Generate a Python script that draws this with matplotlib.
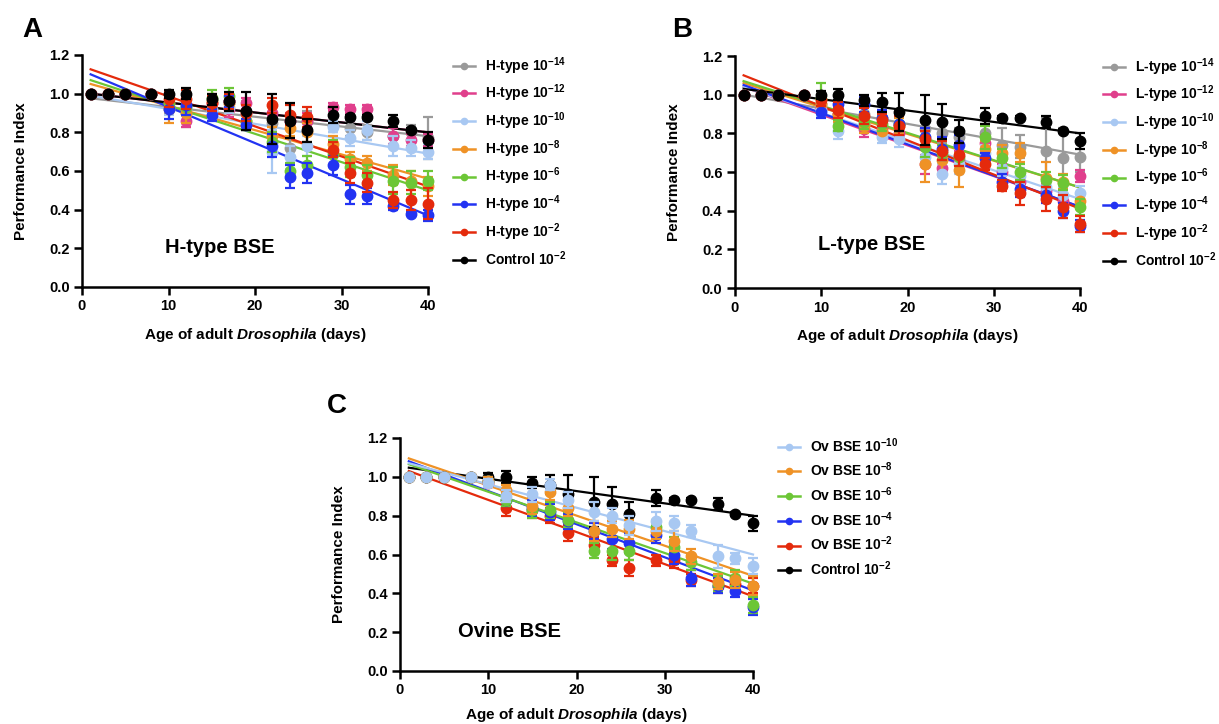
import numpy as np
import matplotlib
matplotlib.use("Agg")
import matplotlib.pyplot as plt
from matplotlib.lines import Line2D
from matplotlib.ticker import FormatStrFormatter

plt.rcParams['font.family'] = ['Liberation Sans', 'DejaVu Sans']
plt.rcParams['font.weight'] = 'bold'
plt.rcParams['mathtext.fontset'] = 'custom'
plt.rcParams['mathtext.rm'] = 'Liberation Sans:bold'
plt.rcParams['mathtext.bf'] = 'Liberation Sans:bold'
plt.rcParams['mathtext.it'] = 'Liberation Sans:italic:bold'

# ---- sampling days (age of adult flies) ----
days = [1, 3, 5, 8, 10, 12, 15, 17, 19, 22, 24, 26, 29, 31, 33, 36, 38, 40]

# ---- control (shared by all panels) ----
control = [1.0, 1.0, 1.0, 1.0, 1.0, 1.0, 0.97, 0.96, 0.91, 0.87, 0.86, 0.81, 0.89, 0.88, 0.88, 0.86, 0.81, 0.76]
control_err = [0, 0, 0, 0, 0.02, 0.03, 0.03, 0.05, 0.10, 0.13, 0.09, 0.06, 0.04, 0.01, 0.01, 0.03, 0.01, 0.04]

# ---- panel A: H-type BSE ----
h_labels = ["H-type 10$^{-14}$", "H-type 10$^{-12}$", "H-type 10$^{-10}$", "H-type 10$^{-8}$",
            "H-type 10$^{-6}$", "H-type 10$^{-4}$", "H-type 10$^{-2}$", "Control 10$^{-2}$"]
h_m14 = [1, 1, 1, 1, 0.93, 0.90, 0.92, 0.95, 0.90, 0.85, 0.72, 0.86, 0.84, 0.82, 0.80, 0.78, 0.80, 0.77]
h_m14_err = [0, 0, 0, 0, 0.03, 0.07, 0.05, 0.04, 0.06, 0.05, 0.05, 0.05, 0.04, 0.04, 0.04, 0.05, 0.04, 0.11]
h_m12 = [1, 1, 1, 1, 0.95, 0.86, 0.95, 0.92, 0.95, 0.90, 0.86, 0.86, 0.93, 0.92, 0.92, 0.78, 0.76, 0.76]
h_m12_err = [0, 0, 0, 0, 0.03, 0.03, 0.03, 0.04, 0.03, 0.04, 0.04, 0.04, 0.02, 0.02, 0.02, 0.04, 0.03, 0.03]
h_m10 = [1, 1, 1, 1, 0.92, 0.93, 0.91, 0.93, 0.85, 0.70, 0.67, 0.73, 0.83, 0.77, 0.81, 0.73, 0.72, 0.70]
h_m10_err = [0, 0, 0, 0, 0.03, 0.04, 0.04, 0.03, 0.04, 0.11, 0.06, 0.05, 0.03, 0.04, 0.05, 0.05, 0.04, 0.04]
h_m8 = [1, 1, 1, 1, 0.92, 0.90, 0.96, 0.95, 0.86, 0.78, 0.82, 0.80, 0.74, 0.66, 0.64, 0.58, 0.55, 0.52]
h_m8_err = [0, 0, 0, 0, 0.07, 0.05, 0.04, 0.04, 0.05, 0.05, 0.04, 0.05, 0.04, 0.04, 0.04, 0.05, 0.05, 0.05]
h_m6 = [1, 1, 1, 1, 0.95, 0.93, 0.98, 0.99, 0.86, 0.75, 0.60, 0.63, 0.69, 0.62, 0.58, 0.55, 0.54, 0.55]
h_m6_err = [0, 0, 0, 0, 0.03, 0.04, 0.04, 0.04, 0.03, 0.05, 0.04, 0.05, 0.07, 0.05, 0.05, 0.07, 0.06, 0.05]
h_m4 = [1, 1, 1, 1, 0.92, 0.94, 0.89, 0.96, 0.84, 0.73, 0.57, 0.59, 0.63, 0.48, 0.47, 0.42, 0.38, 0.37]
h_m4_err = [0, 0, 0, 0, 0.05, 0.05, 0.03, 0.03, 0.03, 0.06, 0.06, 0.05, 0.05, 0.05, 0.04, 0.02, 0.01, 0.03]
h_m2 = [1, 1, 1, 1, 0.97, 0.97, 0.95, 0.96, 0.90, 0.94, 0.89, 0.88, 0.71, 0.59, 0.54, 0.45, 0.45, 0.43]
h_m2_err = [0, 0, 0, 0, 0.04, 0.05, 0.04, 0.04, 0.04, 0.04, 0.05, 0.05, 0.04, 0.05, 0.05, 0.04, 0.05, 0.08]
# linear fits: value at day 1 and day 40
h_fit_start = [0.976, 1.00, 0.99, 1.05, 1.07, 1.10, 1.126, 1.00]
h_fit_end = [0.78, 0.80, 0.69, 0.56, 0.50, 0.37, 0.52, 0.80]

# ---- panel B: L-type BSE ----
l_labels = ["L-type 10$^{-14}$", "L-type 10$^{-12}$", "L-type 10$^{-10}$", "L-type 10$^{-8}$",
            "L-type 10$^{-6}$", "L-type 10$^{-4}$", "L-type 10$^{-2}$", "Control 10$^{-2}$"]
l_m14 = [1, 1, 1, 1, 0.95, 0.90, 0.90, 0.88, 0.85, 0.82, 0.80, 0.78, 0.80, 0.74, 0.73, 0.71, 0.67, 0.68]
l_m14_err = [0, 0, 0, 0, 0.03, 0.04, 0.04, 0.04, 0.04, 0.04, 0.05, 0.05, 0.05, 0.09, 0.06, 0.17, 0.16, 0.08]
l_m12 = [1, 1, 1, 1, 0.93, 0.90, 0.82, 0.83, 0.80, 0.64, 0.62, 0.66, 0.75, 0.60, 0.55, 0.50, 0.45, 0.58]
l_m12_err = [0, 0, 0, 0, 0.03, 0.03, 0.04, 0.03, 0.04, 0.05, 0.04, 0.05, 0.04, 0.04, 0.04, 0.04, 0.04, 0.03]
l_m10 = [1, 1, 1, 1, 0.92, 0.81, 0.85, 0.78, 0.77, 0.68, 0.59, 0.64, 0.70, 0.62, 0.58, 0.52, 0.48, 0.49]
l_m10_err = [0, 0, 0, 0, 0.03, 0.04, 0.03, 0.03, 0.04, 0.05, 0.05, 0.05, 0.04, 0.04, 0.04, 0.04, 0.04, 0.04]
l_m8 = [1, 1, 1, 1, 0.95, 0.90, 0.84, 0.81, 0.84, 0.64, 0.66, 0.61, 0.72, 0.70, 0.70, 0.57, 0.55, 0.45]
l_m8_err = [0, 0, 0, 0, 0.03, 0.04, 0.04, 0.04, 0.04, 0.09, 0.08, 0.09, 0.04, 0.04, 0.05, 0.08, 0.04, 0.04]
l_m6 = [1, 1, 1, 1, 0.98, 0.84, 0.86, 0.85, 0.85, 0.73, 0.70, 0.68, 0.78, 0.67, 0.60, 0.56, 0.545, 0.42]
l_m6_err = [0, 0, 0, 0, 0.08, 0.03, 0.04, 0.04, 0.04, 0.05, 0.04, 0.05, 0.06, 0.05, 0.04, 0.04, 0.04, 0.04]
l_m4 = [1, 1, 1, 1, 0.91, 0.95, 0.95, 0.88, 0.85, 0.78, 0.72, 0.74, 0.67, 0.55, 0.51, 0.48, 0.40, 0.32]
l_m4_err = [0, 0, 0, 0, 0.03, 0.04, 0.04, 0.04, 0.04, 0.05, 0.06, 0.05, 0.03, 0.04, 0.04, 0.04, 0.04, 0.03]
l_m2 = [1, 1, 1, 1, 0.97, 0.92, 0.89, 0.87, 0.84, 0.77, 0.71, 0.69, 0.64, 0.53, 0.49, 0.46, 0.42, 0.33]
l_m2_err = [0, 0, 0, 0, 0.03, 0.04, 0.04, 0.03, 0.05, 0.04, 0.05, 0.06, 0.03, 0.03, 0.06, 0.06, 0.06, 0.04]
l_fit_start = [1.00, 1.04, 1.04, 1.06, 1.07, 1.05, 1.10, 1.03]
l_fit_end = [0.69, 0.42, 0.46, 0.52, 0.52, 0.42, 0.41, 0.80]

# ---- panel C: ovine BSE ----
o_labels = ["Ov BSE 10$^{-10}$", "Ov BSE 10$^{-8}$", "Ov BSE 10$^{-6}$",
            "Ov BSE 10$^{-4}$", "Ov BSE 10$^{-2}$", "Control 10$^{-2}$"]
o_m10 = [1, 1, 1, 1, 0.97, 0.90, 0.91, 0.96, 0.88, 0.82, 0.80, 0.75, 0.77, 0.76, 0.72, 0.59, 0.58, 0.54]
o_m10_err = [0, 0, 0, 0, 0.02, 0.03, 0.04, 0.03, 0.04, 0.05, 0.04, 0.05, 0.05, 0.04, 0.03, 0.06, 0.03, 0.04]
o_m8 = [1, 1, 1, 1, 0.98, 0.93, 0.85, 0.92, 0.84, 0.72, 0.73, 0.73, 0.72, 0.67, 0.59, 0.46, 0.47, 0.44]
o_m8_err = [0, 0, 0, 0, 0.02, 0.03, 0.04, 0.04, 0.04, 0.05, 0.04, 0.05, 0.04, 0.05, 0.04, 0.04, 0.04, 0.05]
o_m6 = [1, 1, 1, 1, 0.98, 0.88, 0.83, 0.83, 0.78, 0.62, 0.62, 0.62, 0.74, 0.64, 0.56, 0.45, 0.48, 0.34]
o_m6_err = [0, 0, 0, 0, 0.02, 0.03, 0.04, 0.04, 0.04, 0.04, 0.05, 0.05, 0.04, 0.05, 0.04, 0.04, 0.04, 0.04]
o_m4 = [1, 1, 1, 1, 0.98, 0.88, 0.84, 0.82, 0.77, 0.72, 0.68, 0.66, 0.70, 0.60, 0.48, 0.44, 0.41, 0.33]
o_m4_err = [0, 0, 0, 0, 0.02, 0.03, 0.04, 0.04, 0.04, 0.04, 0.05, 0.05, 0.04, 0.05, 0.04, 0.04, 0.03, 0.04]
o_m2 = [1, 1, 1, 1, 0.97, 0.84, 0.83, 0.80, 0.71, 0.65, 0.57, 0.53, 0.57, 0.57, 0.47, 0.44, 0.45, 0.44]
o_m2_err = [0, 0, 0, 0, 0.02, 0.04, 0.04, 0.04, 0.04, 0.04, 0.03, 0.04, 0.03, 0.04, 0.03, 0.04, 0.04, 0.04]
o_fit_start = [1.07, 1.095, 1.065, 1.08, 1.03, 1.047]
o_fit_end = [0.60, 0.49, 0.45, 0.415, 0.385, 0.80]

# ---- colours ----
GRAY, PINK, LBLUE, ORANGE = "#9a9a9a", "#e03f8c", "#a8c8f2", "#ef9226"
GREEN, BLUE, RED, BLACK = "#6cc636", "#2233f2", "#e42a0c", "#000000"
full_colors = [GRAY, PINK, LBLUE, ORANGE, GREEN, BLUE, RED, BLACK]
ov_colors = [LBLUE, ORANGE, GREEN, BLUE, RED, BLACK]

W, H = 1219, 724
fig = plt.figure(figsize=(W / 100, H / 100), dpi=100)


def px_axes(x0, x1, ytop, ybot):
    return fig.add_axes([x0 / W, 1 - ybot / H, (x1 - x0) / W, (ybot - ytop) / H])


def style(ax, xlabelpad=9):
    ax.set_xlim(0, 40)
    ax.set_ylim(0, 1.2)
    ax.set_xticks([0, 10, 20, 30, 40])
    ax.set_yticks(np.arange(0, 1.21, 0.2))
    ax.yaxis.set_major_formatter(FormatStrFormatter('%.1f'))
    for s in ('top', 'right'):
        ax.spines[s].set_visible(False)
    for s in ('left', 'bottom'):
        ax.spines[s].set_linewidth(1.8)
    ax.tick_params(direction='out', length=6, width=1.8, labelsize=10.5, pad=3)
    for lab in ax.get_xticklabels() + ax.get_yticklabels():
        lab.set_fontweight('bold')
    ax.set_ylabel("Performance Index", fontsize=11, fontweight='bold', labelpad=15)
    ax.set_xlabel("Age of adult $\\mathit{Drosophila}$ (days)", fontsize=11,
                  fontweight='bold', labelpad=xlabelpad)


def draw_series(ax, means, errs, colors, starts, ends, order):
    fx = np.array([days[0], days[-1]])
    for k, i in enumerate(order):
        ax.plot(fx, [starts[i], ends[i]], color=colors[i], lw=1.6, zorder=2 + k * 0.1,
                clip_on=False)
    for k, i in enumerate(order):
        ax.errorbar(days, means[i], yerr=errs[i], fmt='o', color=colors[i], ms=7.5,
                    mec=colors[i], elinewidth=1.6, capsize=3.5, capthick=1.6,
                    zorder=3 + k * 0.1, clip_on=False)


def add_legend(ax, labels, colors, x, y):
    handles = [Line2D([0], [0], color=c, lw=1.8, marker='o', ms=4.5) for c in colors]
    fig.legend(handles, labels, loc='upper left', bbox_to_anchor=(x / W, 1 - y / H),
               frameon=False, borderpad=0, borderaxespad=0, handlelength=1.6,
               handletextpad=0.7, labelspacing=0.44,
               prop={'size': 10, 'weight': 'bold'})


# Panel A
axA = px_axes(82, 428, 55, 287)
style(axA)
draw_series(axA, [h_m14, h_m12, h_m10, h_m8, h_m6, h_m4, h_m2, control],
            [h_m14_err, h_m12_err, h_m10_err, h_m8_err, h_m6_err, h_m4_err, h_m2_err, control_err],
            full_colors, h_fit_start, h_fit_end, range(8))
axA.text(9.6, 0.176, "H-type BSE", fontsize=14.5, fontweight='bold', ha='left', va='baseline')
add_legend(axA, h_labels, full_colors, 453, 55)

# Panel B
axB = px_axes(735, 1080, 56, 288)
style(axB)
draw_series(axB, [l_m14, l_m12, l_m10, l_m8, l_m6, l_m4, l_m2, control],
            [l_m14_err, l_m12_err, l_m10_err, l_m8_err, l_m6_err, l_m4_err, l_m2_err, control_err],
            full_colors, l_fit_start, l_fit_end, range(8))
axB.text(9.6, 0.197, "L-type BSE", fontsize=14.5, fontweight='bold', ha='left', va='baseline')
add_legend(axB, l_labels, full_colors, 1103, 56)

# Panel C (control drawn underneath the BSE series)
axC = px_axes(400, 753, 438, 671)
style(axC, xlabelpad=6)
draw_series(axC, [o_m10, o_m8, o_m6, o_m4, o_m2, control],
            [o_m10_err, o_m8_err, o_m6_err, o_m4_err, o_m2_err, control_err],
            ov_colors, o_fit_start, o_fit_end, [5, 4, 3, 2, 1, 0])
axC.text(6.6, 0.177, "Ovine BSE", fontsize=14.5, fontweight='bold', ha='left', va='baseline')
add_legend(axC, o_labels, ov_colors, 778, 436)

# panel letters
fig.text(22 / W, 1 - 37 / H, "A", fontsize=20, fontweight='bold')
fig.text(672 / W, 1 - 37 / H, "B", fontsize=20, fontweight='bold')
fig.text(327 / W, 1 - 413 / H, "C", fontsize=20, fontweight='bold')

fig.savefig("out.png", dpi=100)
